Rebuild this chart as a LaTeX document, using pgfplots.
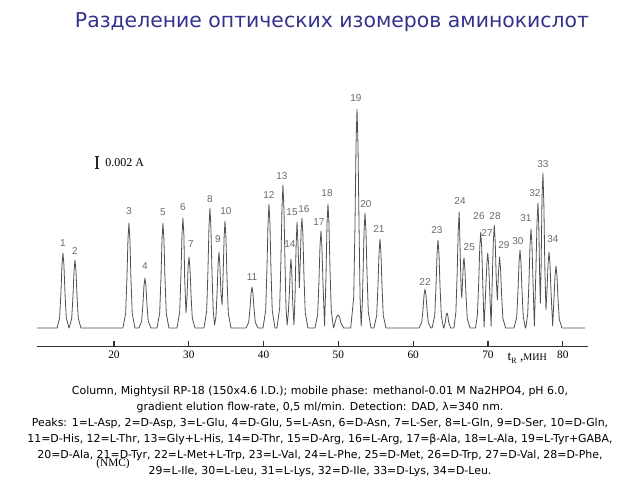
\documentclass[border=0pt]{standalone}
\usepackage{fontspec}
\setmainfont{Liberation Serif}
\newfontfamily\dvs{DejaVu Sans}
\newfontfamily\lsans{Liberation Sans}
\usepackage{pgfplots}
\pgfplotsset{compat=1.18}
\definecolor{titleblue}{RGB}{51,51,140}
\definecolor{trace}{RGB}{80,80,80}
\definecolor{lbl}{RGB}{105,105,105}
\begin{document}
\begin{tikzpicture}
\useasboundingbox (0,0) rectangle (480pt,360pt);
\node[font=\dvs\fontsize{15.3}{17}\selectfont, text=titleblue] at (249pt,343pt) {Разделение оптических изомеров аминокислот};
\begin{axis}[
  at={(27.75pt,100.5pt)}, anchor=south west,
  scale only axis, width=413.25pt, height=193.5pt,
  xmin=9.71, xmax=83.37, ymin=-18, ymax=240,
  axis x line=bottom, axis y line=none,
  x axis line style={-, line width=0.6pt, black!80},
  xtick={20,30,40,50,60,70,80},
  tick align=inside, major tick length=3.5pt,
  tick style={line width=0.8pt, black!80},
  xticklabel style={font=\fontsize{8.5}{9}\selectfont, yshift=-0.5pt},
  /pgf/number format/assume math mode=true,
  clip=false,
]
\addplot[color=trace, line width=0.6pt, line join=round] coordinates {
(9.71,0) (12.40,0) (12.74,10.5) (12.91,35.3) (13.05,63) (13.18,75) (13.31,63) (13.45,35.3) (13.62,10.5) (13.98,0)
(14.0,0) (14.35,9.5) (14.52,32) (14.66,57.1) (14.79,68) (14.92,57.1) (15.06,32) (15.23,9.5) (15.59,0)
(21.2,0) (21.56,14.7) (21.73,49.4) (21.87,88.2) (22.0,105) (22.13,88.2) (22.27,49.4) (22.44,14.7) (22.8,0)
(23.34,0) (23.70,7) (23.87,23.5) (24.01,42) (24.14,50) (24.27,42) (24.41,23.5) (24.58,7) (24.94,0)
(25.75,0) (26.11,14.7) (26.28,49.4) (26.42,88.2) (26.55,105) (26.68,88.2) (26.82,49.4) (26.99,14.7) (27.35,0)
(28.42,0) (28.78,15.4) (28.95,51.7) (29.09,92.4) (29.22,110) (29.35,92.4) (29.45,50) (29.63,15) (29.78,33) (29.9,60) (30.03,71) (30.16,59.6) (30.30,33.4) (30.47,9.9) (30.83,0)
(32.03,0) (32.39,16.8) (32.56,56.4) (32.70,100.8) (32.83,120) (32.96,100.8) (33.10,56.4) (33.27,16.8) (33.45,3) (33.64,12) (33.8,38) (33.92,64) (34.04,76) (34.16,62) (34.3,35) (34.45,23) (34.6,55) (34.72,90) (34.84,107) (34.97,90) (35.11,50.3) (35.28,15) (35.64,0)
(37.65,0) (38.01,5.7) (38.18,19.3) (38.32,34.4) (38.45,41) (38.58,34.4) (38.72,19.3) (38.89,5.7) (39.25,0)
(39.92,0) (40.28,17.4) (40.45,58.3) (40.59,104.2) (40.72,124) (40.85,104.2) (40.99,58.3) (41.16,17.4) (41.52,0)
(41.79,0) (42.15,20) (42.32,67.2) (42.46,120.1) (42.59,143) (42.72,120.1) (42.86,67.2) (43.0,20) (43.15,3) (43.3,14) (43.45,35) (43.56,58) (43.66,69) (43.76,58) (43.9,25) (44.06,3) (44.2,30) (44.34,80) (44.47,106) (44.6,85) (44.78,40) (44.92,70) (45.02,98) (45.13,110) (45.26,92.4) (45.40,51.7) (45.57,15.4) (45.93,0)
(46.87,0) (47.23,13.6) (47.40,45.6) (47.54,81.5) (47.67,97) (47.80,81.5) (47.94,45.6) (48.15,2) (48.34,50) (48.48,104) (48.61,124) (48.74,104.2) (48.88,58.3) (49.05,17.4) (49.35,0)
(49.55,5) (49.75,11) (49.95,13) (50.15,11) (50.35,5) (50.7,0)
(51.65,0) (52.05,30.7) (52.22,102.9) (52.36,184) (52.49,219) (52.62,184) (52.76,102.9) (52.9,30) (53.05,2) (53.2,25) (53.3,55) (53.43,96.6) (53.56,115) (53.69,96.6) (53.83,54) (54.0,16.1) (54.36,0)
(54.76,0) (55.12,12.5) (55.29,41.8) (55.43,74.8) (55.56,89) (55.69,74.8) (55.83,41.8) (56.0,12.5) (56.36,0)
(60.78,0) (61.14,5.5) (61.31,18.3) (61.45,32.8) (61.58,39) (61.71,32.8) (61.85,18.3) (62.02,5.5) (62.38,0)
(62.52,0) (62.88,12.3) (63.05,41.4) (63.19,73.9) (63.32,88) (63.45,73.9) (63.59,41.4) (63.76,12.3) (64.05,0)
(64.1,0) (64.3,6) (64.42,13) (64.52,15) (64.62,13) (64.74,6) (65.0,0)
(65.45,0) (65.71,16.2) (65.88,54.5) (66.02,97.4) (66.15,116) (66.27,80) (66.4,40) (66.5,30) (66.62,50) (66.72,66) (66.8,70) (66.92,58) (67.06,32) (67.24,9) (67.6,0)
(68.33,0) (68.59,13.4) (68.76,45.1) (68.90,80.6) (69.03,96) (69.16,80.6) (69.3,45) (69.48,1) (69.68,35) (69.84,63) (69.97,75) (70.1,63) (70.24,35) (70.42,2) (70.57,48) (70.71,85.7) (70.84,103) (70.97,85.7) (71.1,50) (71.25,28) (71.4,55) (71.55,71) (71.68,59.6) (71.82,33.4) (71.99,9.9) (72.35,0)
(73.48,0) (73.84,10.9) (74.01,36.7) (74.15,65.5) (74.28,78) (74.41,65.5) (74.55,36.7) (74.72,10.9) (75.0,0)
(75.05,0) (75.31,13.9) (75.48,46.5) (75.62,83.2) (75.75,99) (75.88,83.2) (76.02,46.5) (76.2,2) (76.41,58.8) (76.55,105) (76.68,125) (76.8,100) (76.9,55) (77.0,25) (77.1,60) (77.22,130) (77.35,155) (77.48,120) (77.6,60) (77.75,18) (77.9,40) (78.03,64) (78.16,76) (78.29,64) (78.43,35.7) (78.65,2) (78.82,29) (78.96,52) (79.09,62) (79.22,52.1) (79.36,29.1) (79.53,8.7) (79.89,0) (82.97,0)
};
% peak numbers
\begin{scope}[every node/.style={font=\lsans\fontsize{7.5}{8}\selectfont, text=lbl, inner sep=0pt}]
\node at (axis cs:13.18,85) {1};
\node at (axis cs:14.79,77) {2};
\node at (axis cs:22.0,117) {3};
\node at (axis cs:24.14,62) {4};
\node at (axis cs:26.55,116) {5};
\node at (axis cs:29.22,121) {6};
\node at (axis cs:30.29,84) {7};
\node at (axis cs:32.83,129) {8};
\node at (axis cs:33.9,89) {9};
\node at (axis cs:34.97,117) {10};
\node at (axis cs:38.45,51) {11};
\node at (axis cs:40.72,133) {12};
\node at (axis cs:42.46,152) {13};
\node at (axis cs:43.53,84) {14};
\node at (axis cs:43.8,116) {15};
\node at (axis cs:45.4,119) {16};
\node at (axis cs:47.4,106) {17};
\node at (axis cs:48.48,135) {18};
\node at (axis cs:52.35,230) {19};
\node at (axis cs:53.69,124) {20};
\node at (axis cs:55.43,99) {21};
\node at (axis cs:61.58,46) {22};
\node at (axis cs:63.18,98) {23};
\node at (axis cs:66.26,127) {24};
\node at (axis cs:67.5,81) {25};
\node at (axis cs:68.8,112) {26};
\node at (axis cs:69.87,95) {27};
\node at (axis cs:70.94,112) {28};
\node at (axis cs:72.14,83) {29};
\node at (axis cs:74.0,87) {30};
\node at (axis cs:75.08,110) {31};
\node at (axis cs:76.28,135) {32};
\node at (axis cs:77.35,164) {33};
\node at (axis cs:78.69,89) {34};
\end{scope}
% scale bar
\draw[line width=0.9pt, black!85] (axis cs:17.73,160) -- (axis cs:17.73,172);
\draw[line width=0.7pt, black!85] (axis cs:17.45,160) -- (axis cs:18.01,160);
\draw[line width=0.7pt, black!85] (axis cs:17.45,172) -- (axis cs:18.01,172);
\node[anchor=west, inner sep=0pt, font=\fontsize{9}{10}\selectfont] at (axis cs:18.8,165.5) {0.002 A};
% axis label
\node[anchor=west, inner sep=0pt, font=\fontsize{10}{11}\selectfont] at (axis cs:72.6,-30) {t{\fontsize{6}{7}\selectfont\raisebox{-2pt}{R}} ,{\fontsize{7.5}{8}\selectfont МИН}};
\end{axis}
\begin{scope}[every node/.style={font=\dvs\fontsize{8.2}{9}\selectfont, inner sep=0pt}]
\node at (240pt,66.5pt) {Column, Mightysil RP-18 (150x4.6 I.D.); mobile phase: methanol-0.01 M Na2HPO4, pH 6.0,};
\node at (240pt,54.5pt) {gradient elution flow-rate, 0,5 ml/min. Detection: DAD, λ=340 nm.};
\node at (240pt,42.5pt) {Peaks: 1=L-Asp, 2=D-Asp, 3=L-Glu, 4=D-Glu, 5=L-Asn, 6=D-Asn, 7=L-Ser, 8=L-Gln, 9=D-Ser, 10=D-Gln,};
\node at (240pt,30.5pt) {11=D-His, 12=L-Thr, 13=Gly+L-His, 14=D-Thr, 15=D-Arg, 16=L-Arg, 17=β-Ala, 18=L-Ala, 19=L-Tyr+GABA,};
\node at (240pt,18.5pt) {20=D-Ala, 21=D-Tyr, 22=L-Met+L-Trp, 23=L-Val, 24=L-Phe, 25=D-Met, 26=D-Trp, 27=D-Val, 28=D-Phe,};
\node at (240pt,6.5pt) {29=L-Ile, 30=L-Leu, 31=L-Lys, 32=D-Ile, 33=D-Lys, 34=D-Leu.};
\end{scope}
\node[font=\fontsize{8.5}{9}\selectfont, inner sep=0pt] at (84.75pt,12.5pt) {(NMC)};
\end{tikzpicture}
\end{document}
